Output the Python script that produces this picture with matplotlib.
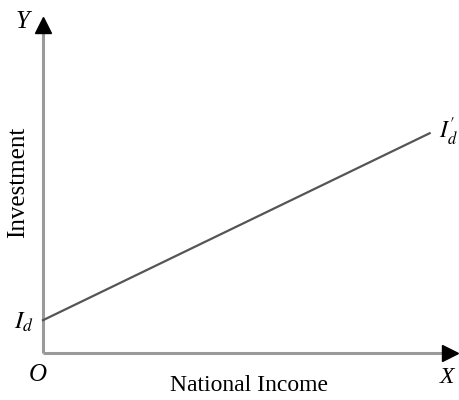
import matplotlib
matplotlib.use("Agg")
import matplotlib.pyplot as plt

# Data (arbitrary units)
income = [0, 95]
investment = [10, 67]
x_label = "National Income"
y_label = "Investment"

fig = plt.figure(figsize=(4.59, 4.00), dpi=100)
ax = fig.add_axes([43/459, 47/400, 407/459, 328/400])
ax.set_xlim(0, 100)
ax.set_ylim(0, 100)
ax.axis("off")

serif = ["Liberation Serif", "DejaVu Serif"]
axis_col = "#9a9a9a"

# axes lines
ax.plot([0, 0], [0, 100], color=axis_col, lw=2.2, clip_on=False, solid_capstyle="butt")
ax.plot([0, 100], [0, 0], color=axis_col, lw=2.2, clip_on=False, solid_capstyle="butt")
# black arrow heads
ax.plot([0], [100], marker="^", color="black", markersize=11, clip_on=False)
ax.plot([100], [0], marker=">", color="black", markersize=11, clip_on=False)

ax.plot(income, investment, color="#555555", lw=1.6, clip_on=False)

ax.text(-5.0, 101, "Y", family=serif, style="italic", fontsize=18, ha="center", va="center")
ax.text(-1.2, -6.7, "O", family=serif, style="italic", fontsize=18, ha="center", va="center")
ax.text(99.3, -7.6, "X", family=serif, style="italic", fontsize=17, ha="center", va="center")
ax.text(-4.7, 9.5, r"$I_d$", fontsize=18, ha="center", va="center",
        math_fontfamily="stix")
ax.text(99.6, 67.5, r"$I_d^{\prime}$", fontsize=17, ha="center", va="center",
        math_fontfamily="stix")
ax.text(50.5, -9.8, x_label, family=serif, fontsize=17, ha="center", va="center")
ax.text(-6.1, 52, y_label, family=serif, fontsize=18, ha="center", va="center", rotation=90)

fig.savefig("out.png", dpi=100)
